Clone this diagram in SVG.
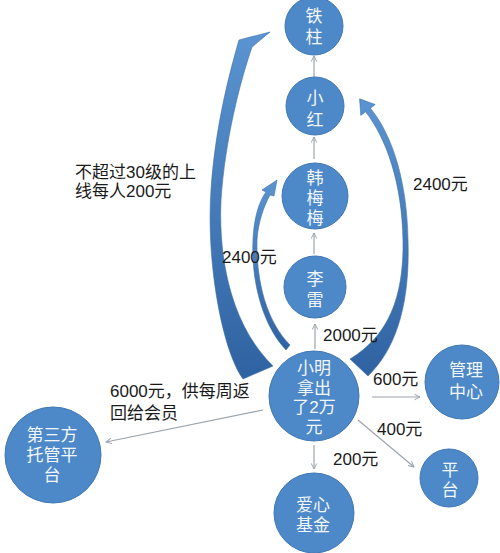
<svg xmlns="http://www.w3.org/2000/svg" width="500" height="553" viewBox="0 0 500 553">
<defs>
<style>
.node{fill:#4d89c8;stroke:#3f77b4;stroke-width:1}
.nt{fill:#f2f6fb;font-family:"Liberation Sans","Noto Sans CJK SC",sans-serif;font-size:17px;text-anchor:middle}
.lb{fill:#1a1a1a;font-family:"Liberation Sans","Noto Sans CJK SC",sans-serif;font-size:17px}
.ln{stroke:#9ba4ad;stroke-width:1.2;fill:none;marker-end:url(#ah)}
.blk{fill:url(#bg);stroke:#3a6ea8;stroke-width:0.6}
</style>
<marker id="ah" viewBox="0 0 10 10" refX="9" refY="5" markerWidth="7" markerHeight="7" orient="auto" markerUnits="userSpaceOnUse">
<path d="M1,1 L9,5 L1,9" fill="none" stroke="#9ba4ad" stroke-width="1.4"/>
</marker>
<linearGradient id="bg" x1="0" y1="1" x2="0" y2="0">
<stop offset="0" stop-color="#2f62a0"/>
<stop offset="1" stop-color="#5b94d2"/>
</linearGradient>
</defs>
<rect width="500" height="553" fill="#ffffff"/>
<g id="connectors">
<path class="blk" d="M243,379 C222,350 206,262 211,190 C215,130 228,78 239,40 L270,32 L252,47 C240,82 225,140 221,200 C218,270 236,330 273,366 Z"/>
<path class="blk" d="M286,350 C263,326 251,282 253,240 C254,216 260,200 266,192 L262,190 L277,180 L274,196 L270,195 C264,206 258,222 257,240 C256,282 267,322 290,345 Z"/>
<path class="blk" d="M368,376 C398,347 410,300 408,240 C407,182 393,136 370.4,108.2 L375.2,104.6 L359.6,98.8 L360.8,115.4 L365.6,111.8 C386,138 402,182 403,240 C404,298 388,336 350,359 Z"/>
<line class="ln" x1="314" y1="77" x2="314" y2="56"/>
<line class="ln" x1="314" y1="159" x2="314" y2="137"/>
<line class="ln" x1="314" y1="254" x2="314" y2="233"/>
<line class="ln" x1="315" y1="349" x2="315" y2="324"/>
<line class="ln" x1="372" y1="397" x2="420" y2="397"/>
<line class="ln" x1="358" y1="420" x2="414" y2="467"/>
<line class="ln" x1="314" y1="445" x2="314" y2="469"/>
<line class="ln" x1="263" y1="410" x2="106" y2="442"/>
</g>
<g id="n-tiezhu"><circle class="node" cx="314" cy="26" r="29"/><text class="nt" x="314" y="22">铁<tspan x="314" dy="21">柱</tspan></text></g>
<g id="n-xiaohong"><circle class="node" cx="315" cy="106" r="29"/><text class="nt" x="315" y="104">小<tspan x="315" dy="22">红</tspan></text></g>
<g id="n-hanmeimei"><circle class="node" cx="315" cy="196" r="33"/><text class="nt" x="315" y="184">韩<tspan x="315" dy="20">梅</tspan><tspan x="315" dy="20">梅</tspan></text></g>
<g id="n-lilei"><circle class="node" cx="315" cy="287" r="31"/><text class="nt" x="315" y="285">李<tspan x="315" dy="21">雷</tspan></text></g>
<g id="n-xiaoming"><circle class="node" cx="314" cy="396" r="45"/><text class="nt" x="314" y="374">小明<tspan x="314" dy="19.5">拿出</tspan><tspan x="314" dy="19.5">了2万</tspan><tspan x="314" dy="19.5">元</tspan></text></g>
<g id="n-guanli"><circle class="node" cx="462" cy="382" r="37"/><text class="nt" x="466" y="376">管理<tspan x="466" dy="22">中心</tspan></text></g>
<g id="n-pingtai"><circle class="node" cx="449" cy="478" r="29"/><text class="nt" x="450" y="476">平<tspan x="450" dy="20">台</tspan></text></g>
<g id="n-aixin"><circle class="node" cx="314" cy="513" r="40"/><text class="nt" x="313" y="511">爱心<tspan x="313" dy="20">基金</tspan></text></g>
<g id="n-disanfang"><circle class="node" cx="53" cy="455" r="48"/><text class="nt" x="52" y="441">第三方<tspan x="52" dy="20">托管平</tspan><tspan x="52" dy="20">台</tspan></text></g>
<g id="labels">
<text class="lb" x="323" y="341">2000元</text>
<text class="lb" x="373" y="385">600元</text>
<text class="lb" x="377" y="435">400元</text>
<text class="lb" x="333" y="465">200元</text>
<text class="lb" x="110" y="397">6000元，供每周返<tspan x="110" dy="22">回给会员</tspan></text>
<text class="lb" x="75" y="178">不超过30级的上<tspan x="75" dy="19">线每人200元</tspan></text>
<text class="lb" x="222" y="263">2400元</text>
<text class="lb" x="413" y="190">2400元</text>
</g>
</svg>
